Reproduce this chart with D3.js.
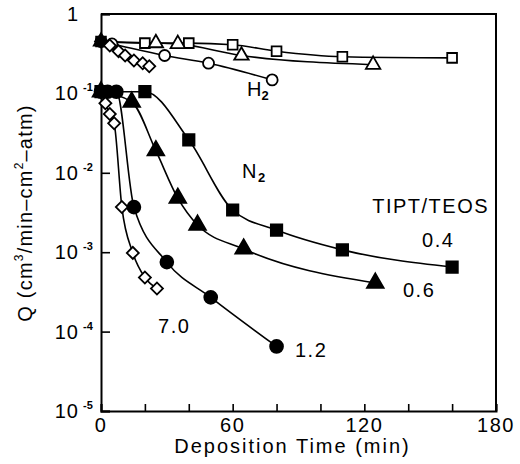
<!DOCTYPE html>
<html>
<head>
<meta charset="utf-8">
<script src="https://cdn.jsdelivr.net/npm/d3@7"></script>
<style>
body { margin: 0; background: #fff; }
text { font-family: "Liberation Sans", Arial, sans-serif; fill: #000; }
</style>
</head>
<body>
<svg id="chart" width="520" height="464"></svg>
<script>
// data (time in min, Q in cm3/min-cm2-atm)
const h2Time04 = [0, 20, 40, 60, 80, 110, 160];
const h2Q04 = [0.45, 0.43, 0.43, 0.41, 0.34, 0.29, 0.28];
const h2Time06 = [0, 25, 35, 64, 124];
const h2Q06 = [0.45, 0.43, 0.42, 0.30, 0.23];
const h2Time12 = [0, 5, 29, 49, 78];
const h2Q12 = [0.45, 0.42, 0.30, 0.24, 0.148];
const h2Time70 = [0, 4, 8, 11, 15, 19, 22];
const h2Q70 = [0.45, 0.40, 0.34, 0.30, 0.26, 0.24, 0.22];

const n2Time04 = [0, 20, 40, 60, 80, 110, 160];
const n2Q04 = [0.105, 0.105, 0.026, 0.0034, 0.0019, 0.00107, 0.00065];
const n2Time06 = [0, 14, 25, 35, 44, 65, 125];
const n2Q06 = [0.105, 0.078, 0.019, 0.0048, 0.0022, 0.0011, 0.00041];
const n2Time12 = [0, 3, 7, 15, 30, 50, 80];
const n2Q12 = [0.105, 0.105, 0.105, 0.0037, 0.00075, 0.00027, 0.000065];
const n2Time70 = [0, 2, 4, 6, 9.5, 14.5, 20, 25.5];
const n2Q70 = [0.105, 0.075, 0.055, 0.042, 0.0037, 0.00098, 0.00048, 0.00035];

const yDecades = [1, 1e-1, 1e-2, 1e-3, 1e-4, 1e-5];
const yExponents = ["", "-1", "-2", "-3", "-4", "-5"];
const xTicks = [0, 20, 40, 60, 80, 100, 120, 140, 160, 180];
const xTickLabels = [0, 60, 120, 180];

// annotations: text, time, Q at baseline start
const labelText = ["N", "TIPT/TEOS", "0.4", "0.6", "7.0", "1.2"];
const labelTime = [64.3, 123.6, 146.3, 137.6, 26, 88.4];
const labelQ = [0.0086, 0.00312, 0.00116, 0.000273, 0.000096, 0.000048];

const svg = d3.select("#chart");
const plotL = 101, plotR = 496, plotT = 14, plotB = 411;

const x = d3.scaleLinear().domain([0, 180]).range([plotL, plotR]);
const y = d3.scaleLog().domain([1e-5, 1]).range([plotB, plotT]);

function zip(ts, qs) { return ts.map((t, i) => ({t: t, q: qs[i]})); }

const series = [
    {pts: zip(n2Time04, n2Q04), shape: "square", fill: true},
    {pts: zip(n2Time06, n2Q06), shape: "triangle", fill: true},
    {pts: zip(n2Time12, n2Q12), shape: "circle", fill: true},
    {pts: zip(n2Time70, n2Q70), shape: "diamond", fill: false},
    {pts: zip(h2Time04, h2Q04), shape: "square", fill: false},
    {pts: zip(h2Time06, h2Q06), shape: "triangle", fill: false},
    {pts: zip(h2Time12, h2Q12), shape: "circle", fill: false},
    {pts: zip(h2Time70, h2Q70), shape: "diamond", fill: false}
];

// frame
svg.append("path")
    .attr("d", `M${plotL},${plotT}H${plotR}V${plotB}`)
    .attr("fill", "none")
    .attr("stroke", "#000")
    .attr("stroke-width", 2);

// y axis: majors + minors, ticks pointing in
const yMinor = [];
for (let e = -5; e < 0; e++) for (let m = 2; m <= 9; m++) yMinor.push(m * Math.pow(10, e));

const yAxisG = svg.append("g").attr("transform", `translate(${plotL},0)`);
yAxisG.call(d3.axisLeft(y).tickValues(yMinor).tickSize(-5).tickFormat(""));
yAxisG.call(d3.axisLeft(y).tickValues(yDecades).tickSize(-9).tickFormat(""));
yAxisG.selectAll("path.domain").attr("stroke-width", 2);
yAxisG.selectAll(".tick line").attr("stroke-width", 1.6);

yDecades.forEach((v, i) => {
    const g = svg.append("g").attr("transform", `translate(${plotL},${y(v)})`);
    g.append("text")
        .attr("x", -22).attr("y", 7)
        .attr("text-anchor", "end")
        .style("font-size", "20px")
        .style("letter-spacing", "1px")
        .text(i === 0 ? "1" : "10");
    if (yExponents[i]) {
        g.append("text")
            .attr("x", -18).attr("y", -2)
            .style("font-size", "11px")
            .style("font-weight", "bold")
            .text(yExponents[i]);
    }
});

// x axis
const xAxisG = svg.append("g").attr("transform", `translate(0,${plotB})`);
xAxisG.call(d3.axisBottom(x).tickValues(xTicks).tickSize(-7).tickFormat(""));
xAxisG.selectAll("path.domain").attr("stroke-width", 2);
xAxisG.selectAll(".tick line").attr("stroke-width", 1.6);
xAxisG.selectAll(".xlab")
    .data(xTickLabels)
    .join("text")
    .attr("x", d => x(d))
    .attr("y", 21)
    .attr("text-anchor", "middle")
    .style("font-size", "20px")
    .style("letter-spacing", "1.5px")
    .text(d => d);

svg.append("text")
    .attr("x", (plotL + plotR) / 2 - 6)
    .attr("y", 453)
    .attr("text-anchor", "middle")
    .style("font-size", "20px")
    .style("letter-spacing", "2px")
    .text("Deposition Time (min)");

// y title with superscripts
const yt = svg.append("text")
    .attr("transform", "translate(32,213) rotate(-90)")
    .attr("text-anchor", "middle")
    .style("font-size", "20px")
    .style("letter-spacing", "1.2px");
yt.append("tspan").text("Q (cm");
yt.append("tspan").attr("dy", -9).style("font-size", "12px").text("3");
yt.append("tspan").attr("dy", 9).text("/min\u2013cm");
yt.append("tspan").attr("dy", -9).style("font-size", "12px").text("2");
yt.append("tspan").attr("dy", 9).text("\u2013atm)");

// lines
const line = d3.line()
    .x(d => x(d.t))
    .y(d => y(d.q))
    .curve(d3.curveMonotoneX);

svg.selectAll(".series")
    .data(series)
    .join("path")
    .attr("class", "series")
    .attr("d", d => line(d.pts))
    .attr("fill", "none")
    .attr("stroke", "#000")
    .attr("stroke-width", 1.6);

// markers
function symbolFor(s) {
    if (s.shape === "square") return d3.symbol(d3.symbolSquare, s.fill ? 130 : 95)();
    if (s.shape === "triangle") return d3.symbol(d3.symbolTriangle, s.fill ? 120 : 90)();
    if (s.shape === "circle") return d3.symbol(d3.symbolCircle, s.fill ? 130 : 95)();
    return d3.symbol(d3.symbolSquare, 72)();
}

series.forEach(s => {
    svg.append("g")
        .selectAll("path")
        .data(s.pts)
        .join("path")
        .attr("d", symbolFor(s))
        .attr("transform", d => `translate(${x(d.t)},${y(d.q)})` + (s.shape === "diamond" ? " rotate(45)" : ""))
        // points at t = 0 pile up into a solid blob in the original
        .attr("fill", (d, i) => (s.fill || i === 0) ? "#000" : "#fff")
        .attr("stroke", "#000")
        .attr("stroke-width", 1.8);
});

// annotations
svg.append("g")
    .selectAll("text")
    .data(labelText)
    .join("text")
    .attr("x", (d, i) => x(labelTime[i]))
    .attr("y", (d, i) => y(labelQ[i]))
    .style("font-size", "20px")
    .style("letter-spacing", "1.5px")
    .text(d => d)
    .filter(d => d === "N")
    .append("tspan")
    .attr("dy", 4)
    .style("font-size", "13px")
    .style("font-weight", "bold")
    .text("2");

const h2 = svg.append("text")
    .attr("x", x(66.5))
    .attr("y", y(0.092))
    .style("font-size", "20px")
    .text("H");
h2.append("tspan").attr("dy", 4).style("font-size", "13px").style("font-weight", "bold").text("2");
</script>
</body>
</html>
